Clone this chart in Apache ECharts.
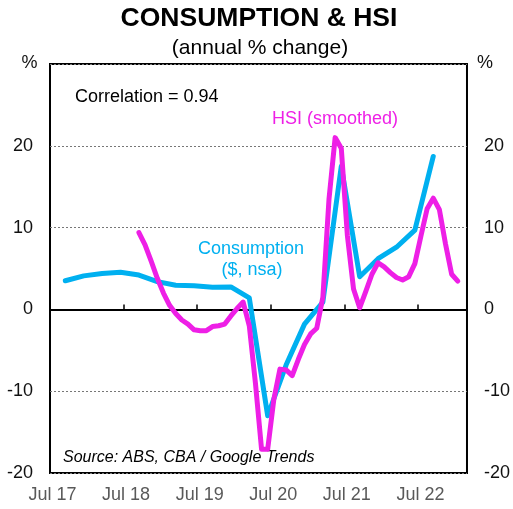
<!DOCTYPE html>
<html>
<head>
<meta charset="utf-8">
<script src="https://cdn.jsdelivr.net/npm/echarts@6/dist/echarts.min.js"></script>
<style>
  html, body { margin: 0; padding: 0; background: #fff; }
  #chart { width: 513px; height: 509px; }
</style>
</head>
<body>
<div id="chart"></div>
<script>
// quarterly consumption, annual % change
var consMonths = ['2017-09', '2017-12', '2018-03', '2018-06', '2018-09', '2018-12', '2019-03',
  '2019-06', '2019-09', '2019-12', '2020-03', '2020-06', '2020-09', '2020-12', '2021-03',
  '2021-06', '2021-09', '2021-12', '2022-03', '2022-06', '2022-09'];
var consValues = [3.5, 4.1, 4.4, 4.55, 4.2, 3.4, 2.95, 2.9, 2.7, 2.75, 1.4, -13.0, -6.8, -1.8, 0.9,
  17.5, 4.0, 6.2, 7.6, 9.7, 18.7];

// monthly HSI (smoothed), annual % change
var hsiMonths = ['2018-09', '2018-10', '2018-11', '2018-12',
  '2019-01', '2019-02', '2019-03', '2019-04', '2019-05', '2019-06', '2019-07', '2019-08', '2019-09', '2019-10', '2019-11', '2019-12',
  '2020-01', '2020-02', '2020-03', '2020-04', '2020-05', '2020-06', '2020-07', '2020-08', '2020-09', '2020-10', '2020-11', '2020-12',
  '2021-01', '2021-02', '2021-03', '2021-04', '2021-05', '2021-06', '2021-07', '2021-08', '2021-09', '2021-10', '2021-11', '2021-12',
  '2022-01', '2022-02', '2022-03', '2022-04', '2022-05', '2022-06', '2022-07', '2022-08', '2022-09', '2022-10', '2022-11', '2022-12',
  '2023-01'];
var hsiValues = [9.4, 7.9, 5.9, 3.8,
  2.0, 0.5, -0.5, -1.3, -1.8, -2.5, -2.6, -2.6, -2.1, -2.0, -1.8, -0.8,
  0.1, 0.9, -2.0, -9.0, -17.1, -17.1, -11.0, -7.3, -7.4, -8.1, -6.1, -4.3,
  -3.0, -2.3, 1.5, 13.5, 21.0, 19.7, 9.0, 2.5, 0.2, 2.2, 4.3, 5.7,
  5.2, 4.5, 3.9, 3.6, 4.0, 5.6, 9.0, 12.3, 13.6, 12.2, 8.0, 4.3,
  3.45];

var xTickLabels = ['Jul 17', 'Jul 18', 'Jul 19', 'Jul 20', 'Jul 21', 'Jul 22'];
var yTicks = [-20, -10, 0, 10, 20, 30];

var FONT = '"Liberation Sans", Arial, sans-serif';
var CYAN = '#00B0F0';
var MAGENTA = '#EE1FE6';

// months since Jul 2017, plotted mid-month
function toX(ym) {
  var p = ym.split('-');
  return (parseInt(p[0], 10) - 2017) * 12 + (parseInt(p[1], 10) - 7) + 0.5;
}
function pairs(months, values) {
  return months.map(function(m, i) { return [toX(m), values[i]]; });
}

var chart = echarts.init(document.getElementById('chart'));

var xBase = { type: 'value', min: 0, max: 68, interval: 12, splitLine: { show: false } };

var option = {
  animation: false,
  grid: { left: 50, right: 43, top: 64, bottom: 36, show: true, borderColor: '#000', borderWidth: 2, backgroundColor: 'transparent' },
  xAxis: [
    Object.assign({}, xBase, {
      position: 'bottom',
      axisLine: { onZero: true, lineStyle: { color: '#000', width: 2 } },
      axisTick: { inside: true, length: 5, lineStyle: { color: '#000', width: 1.5 } },
      axisLabel: { show: false }
    }),
    Object.assign({}, xBase, {
      position: 'bottom',
      axisLine: { show: false, onZero: false },
      axisTick: { show: false },
      axisLabel: {
        margin: 13, color: '#595959', fontSize: 18, fontFamily: FONT, padding: [0, 0, 0, 5],
        formatter: function(v) { return v % 12 === 0 ? xTickLabels[v / 12] : ''; }
      }
    })
  ],
  yAxis: [
    {
      type: 'value', min: yTicks[0], max: yTicks[yTicks.length - 1], interval: 10, position: 'left',
      axisLine: { show: false }, axisTick: { show: false },
      axisLabel: { margin: 17, color: '#111', fontSize: 18, fontFamily: FONT,
        formatter: function(v) { return v === 30 ? '' : String(v); } },
      splitLine: { show: true, lineStyle: { color: '#777', width: 1, type: [2, 2] } }
    },
    {
      type: 'value', min: yTicks[0], max: yTicks[yTicks.length - 1], interval: 10, position: 'right',
      axisLine: { show: false }, axisTick: { show: false },
      axisLabel: { margin: 17, color: '#111', fontSize: 18, fontFamily: FONT,
        formatter: function(v) { return v === 30 ? '' : String(v); } },
      splitLine: { show: false }
    }
  ],
  series: [
    {
      name: 'Consumption', type: 'line', xAxisIndex: 0, yAxisIndex: 0,
      data: pairs(consMonths, consValues), symbol: 'none',
      lineStyle: { color: CYAN, width: 5, cap: 'round', join: 'round' }, z: 3
    },
    {
      name: 'HSI (smoothed)', type: 'line', xAxisIndex: 0, yAxisIndex: 0,
      data: pairs(hsiMonths, hsiValues), symbol: 'none',
      lineStyle: { color: MAGENTA, width: 5, cap: 'round', join: 'round' }, z: 4
    }
  ],
  graphic: [
    { type: 'text', style: { text: 'CONSUMPTION & HSI', x: 259, y: 19, align: 'center', verticalAlign: 'middle', fill: '#000', font: 'bold 26.5px ' + FONT } },
    { type: 'text', style: { text: '(annual % change)', x: 260, y: 48, align: 'center', verticalAlign: 'middle', fill: '#000', font: '21px ' + FONT } },
    { type: 'text', style: { text: '%', x: 29.5, y: 63, align: 'center', verticalAlign: 'middle', fill: '#111', font: '18px ' + FONT } },
    { type: 'text', style: { text: '%', x: 485, y: 63, align: 'center', verticalAlign: 'middle', fill: '#111', font: '18px ' + FONT } },
    { type: 'text', style: { text: 'Correlation = 0.94', x: 75, y: 97, align: 'left', verticalAlign: 'middle', fill: '#000', font: '18px ' + FONT } },
    { type: 'text', style: { text: 'HSI (smoothed)', x: 272, y: 119, align: 'left', verticalAlign: 'middle', fill: MAGENTA, font: '18px ' + FONT } },
    { type: 'text', style: { text: 'Consumption', x: 251, y: 249, align: 'center', verticalAlign: 'middle', fill: CYAN, font: '18px ' + FONT } },
    { type: 'text', style: { text: '($, nsa)', x: 252, y: 270, align: 'center', verticalAlign: 'middle', fill: CYAN, font: '18px ' + FONT } },
    { type: 'text', style: { text: 'Source: ABS, CBA / Google Trends', x: 63, y: 458, align: 'left', verticalAlign: 'middle', fill: '#000', font: 'italic 16px ' + FONT } }
  ]
};

chart.setOption(option);
</script>
</body>
</html>
